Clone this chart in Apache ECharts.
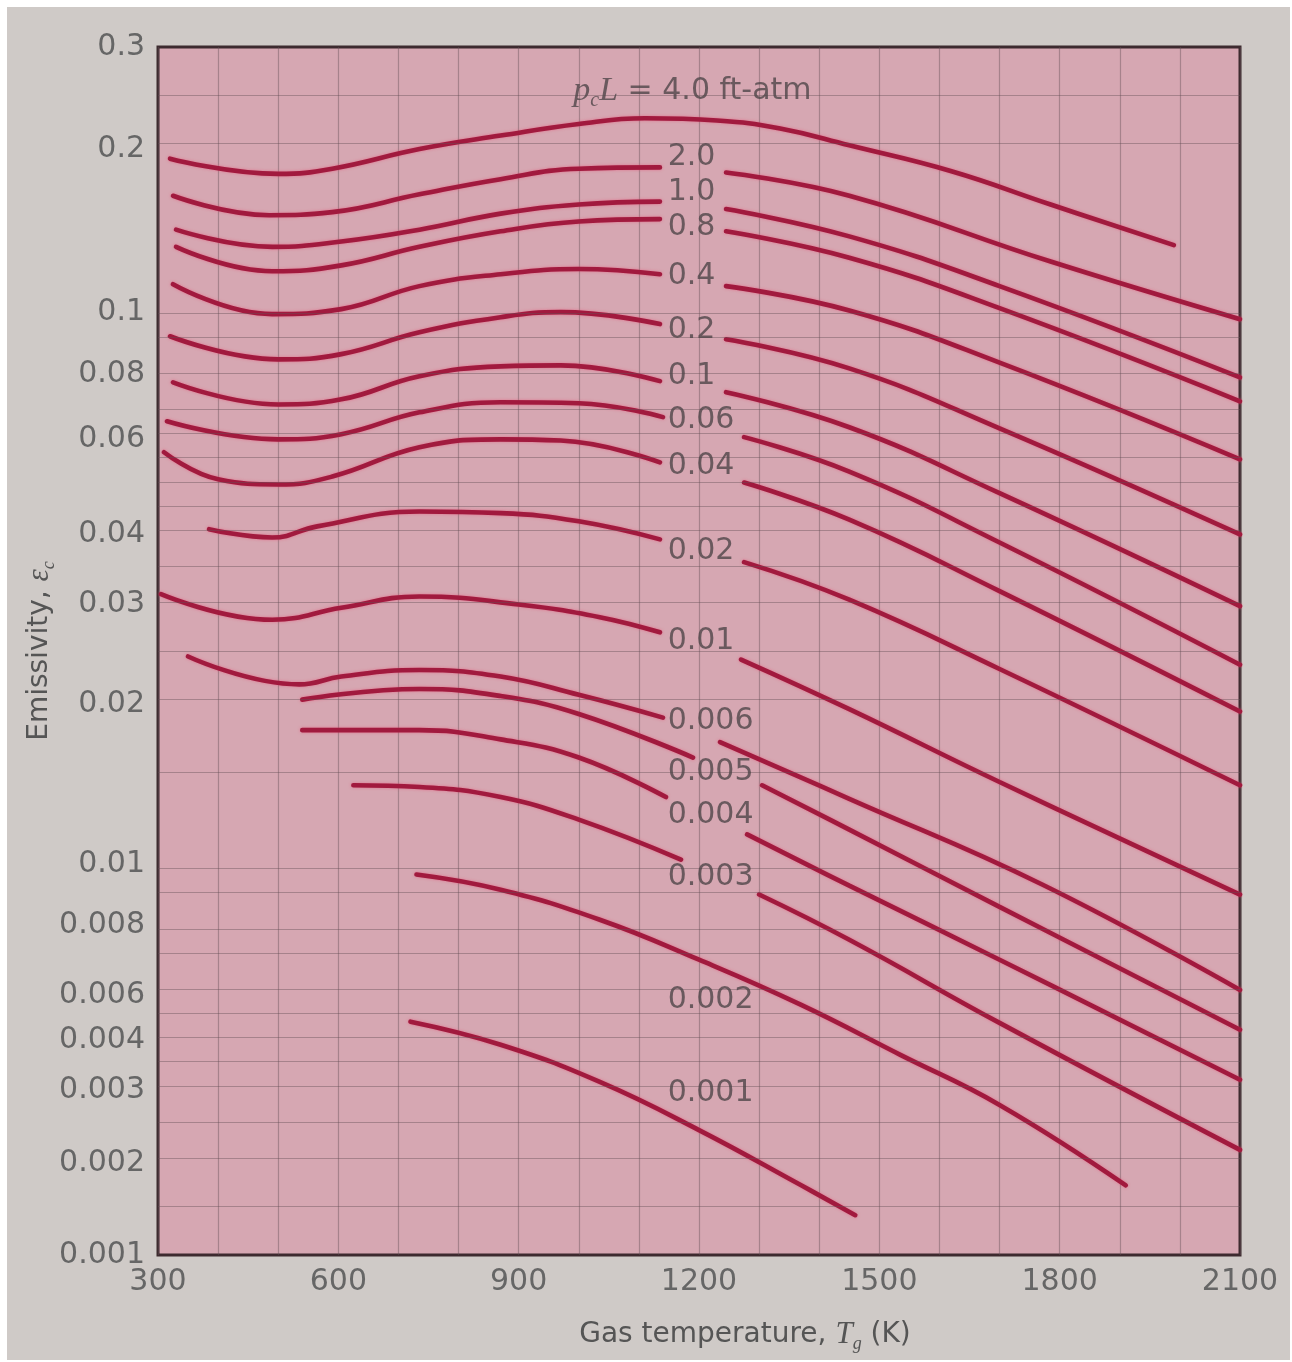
<!DOCTYPE html>
<html>
<head>
<meta charset="utf-8">
<script src="https://cdn.jsdelivr.net/npm/echarts@6/dist/echarts.min.js"></script>
<style>
html,body{margin:0;padding:0;background:#ffffff;width:1292px;height:1362px;overflow:hidden;}
#c{position:absolute;left:7px;top:7px;width:1283px;height:1353px;}
</style>
</head>
<body>
<div id="c"></div>
<script>
// ---- y axis (emissivity) tick values and their labels ----
const TICK_VALUES = [0.001, 0.002, 0.003, 0.004, 0.006, 0.008, 0.01, 0.02, 0.03, 0.04, 0.06, 0.08, 0.1, 0.2, 0.3];
const TICK_LABELS = ['0.001','0.002','0.003','0.004','0.006','0.008','0.01','0.02','0.03','0.04','0.06','0.08','0.1','0.2','0.3'];
// fraction of axis height at which each tick sits in the printed chart (non-uniform printed scale)
const TICK_FRAC = [0, 0.0762, 0.1367, 0.1781, 0.2154, 0.2734, 0.3231, 0.4557, 0.5385, 0.5965, 0.6752, 0.7291, 0.7805, 0.9155, 1];
// horizontal grid-line emissivities
const GRID_EPS = [0.0015,0.002,0.0025,0.003,0.0035,0.004,0.005,0.006,0.007,0.008,0.009,0.01,0.015,0.02,0.025,0.03,0.035,0.04,0.045,0.05,0.055,0.06,0.07,0.08,0.09,0.1,0.2,0.25];
// x axis tick labels
const X_LABELS = [300, 600, 900, 1200, 1500, 1800, 2100];

// ---- curves: gas temperature (K) and emissivity; null = gap for label ----
const T_4_0 = [320, 500, 590, 735, 870, 1000, 1110, 1230, 1335, 1450, 1620, 1785, 1990];
const E_4_0 = [0.192, 0.180, 0.184, 0.200, 0.211, 0.221, 0.226, 0.224, 0.217, 0.203, 0.182, 0.158, 0.133];

const T_2_0 = [325, 485, 590, 735, 870, 1000, 1135, 1190, 1245, 1450, 1785, 2100];
const E_2_0 = [0.164, 0.151, 0.153, 0.165, 0.176, 0.184, 0.185, null, 0.181, 0.164, 0.124, 0.0975];

const T_1_0 = [330, 490, 605, 735, 870, 1000, 1135, 1190, 1245, 1450, 1700, 2100];
const E_1_0 = [0.142, 0.132, 0.135, 0.142, 0.152, 0.158, 0.160, null, 0.155, 0.138, 0.1117, 0.0789];

const T_0_8 = [330, 490, 605, 735, 870, 1000, 1135, 1190, 1245, 1450, 1700, 2100];
const E_0_8 = [0.132, 0.119, 0.122, 0.132, 0.141, 0.147, 0.1485, null, 0.141, 0.126, 0.1017, 0.071];

const T_0_4 = [325, 490, 605, 735, 870, 1000, 1135, 1190, 1245, 1450, 1700, 2100];
const E_0_4 = [0.1126, 0.0993, 0.1013, 0.1117, 0.1175, 0.1201, 0.1175, null, 0.1117, 0.1007, 0.0834, 0.0551];

const T_0_2 = [320, 500, 605, 735, 870, 970, 1135, 1190, 1245, 1450, 1700, 2100];
const E_0_2 = [0.0917, 0.0844, 0.0860, 0.0930, 0.0982, 0.1000, 0.0958, null, 0.0907, 0.0817, 0.0630, 0.0400];

const T_0_1 = [325, 500, 605, 735, 870, 970, 1135, 1190, 1245, 1450, 1700, 2100];
const E_0_1 = [0.0772, 0.0700, 0.0716, 0.0793, 0.0823, 0.0826, 0.0776, null, 0.0739, 0.0633, 0.0477, 0.0298];

const T_0_06 = [315, 500, 605, 735, 870, 1000, 1140, 1200, 1275, 1450, 1700, 2100];
const E_0_06 = [0.0650, 0.0600, 0.0614, 0.0676, 0.0707, 0.0704, 0.0662, null, 0.0606, 0.0523, 0.0387, 0.0235];

const T_0_04 = [310, 400, 500, 590, 735, 870, 970, 1135, 1200, 1275, 1450, 1700, 2100];
const E_0_04 = [0.0568, 0.0506, 0.0495, 0.0512, 0.0580, 0.0600, 0.0597, 0.0544, null, 0.0499, 0.0426, 0.0317, 0.0194];

const T_0_02 = [385, 490, 565, 735, 870, 1000, 1135, 1200, 1275, 1450, 1700, 2100];
const E_0_02 = [0.0409, 0.0395, 0.0414, 0.0441, 0.0438, 0.0423, 0.0392, null, 0.0357, 0.0306, 0.0231, 0.0141];

const T_0_01 = [305, 490, 605, 735, 900, 1035, 1135, 1200, 1270, 1450, 1700, 2100];
const E_0_01 = [0.0313, 0.0282, 0.0296, 0.0310, 0.0300, 0.0285, 0.0268, null, 0.0240, 0.0196, 0.0143, 0.00895];

const T_0_006 = [350, 535, 605, 735, 870, 1000, 1140, 1190, 1235, 1450, 1770, 2100];
const E_0_006 = [0.0243, 0.0217, 0.0224, 0.0230, 0.0224, 0.0208, 0.0189, null, 0.0170, 0.0133, 0.0093, 0.00612];

const T_0_005 = [540, 735, 870, 1000, 1190, 1250, 1305, 1450, 1700, 2100];
const E_0_005 = [0.0204, 0.0213, 0.0207, 0.0192, 0.0159, null, 0.0141, 0.01164, 0.00855, 0.00438];

const T_0_004 = [540, 735, 870, 1000, 1145, 1210, 1280, 1450, 1700, 2100];
const E_0_004 = [0.0179, 0.0179, 0.0172, 0.0159, 0.0134, null, 0.0114, 0.00925, 0.00693, 0.00318];

const T_0_003 = [625, 735, 870, 1000, 1170, 1235, 1300, 1450, 1700, 2100];
const E_0_003 = [0.0141, 0.0140, 0.0134, 0.01215, 0.01022, null, 0.00895, 0.00752, 0.00466, 0.00215];

const T_0_002 = [730, 870, 1035, 1200, 1370, 1535, 1700, 1910];
const E_0_002 = [0.00964, 0.00911, 0.00815, 0.00693, 0.00548, 0.00367, 0.00276, 0.00169];

const T_0_001 = [720, 870, 1035, 1200, 1370, 1460];
const E_0_001 = [0.00471, 0.00389, 0.00314, 0.00240, 0.00169, 0.00135];

// ---- curve labels (pcL, ft-atm) anchored in data coordinates ----
const LABEL_TEXT = ['2.0','1.0','0.8','0.4','0.2','0.1','0.06','0.04','0.02','0.01','0.006','0.005','0.004','0.003','0.002','0.001'];
const LABEL_T = 1147;
const LABEL_EPS = [0.1933, 0.1666, 0.1435, 0.1165, 0.0937, 0.0793, 0.0653, 0.0535, 0.0373, 0.0258, 0.0186, 0.0149, 0.0124, 0.00956, 0.00574, 0.00295];
const TITLE_T = 990;
const TITLE_EPS = 0.2519;

// ---- printed (piecewise-logarithmic) emissivity scale ----
function pos(e) {
  const n = TICK_VALUES.length;
  let i = 0;
  while (i < n - 2 && e > TICK_VALUES[i + 1]) i++;
  const l0 = Math.log10(TICK_VALUES[i]), l1 = Math.log10(TICK_VALUES[i + 1]);
  const t = (Math.log10(e) - l0) / (l1 - l0);
  return TICK_FRAC[i] + t * (TICK_FRAC[i + 1] - TICK_FRAC[i]);
}

const CURVES = [
  ['4.0', T_4_0, E_4_0], ['2.0', T_2_0, E_2_0], ['1.0', T_1_0, E_1_0], ['0.8', T_0_8, E_0_8],
  ['0.4', T_0_4, E_0_4], ['0.2', T_0_2, E_0_2], ['0.1', T_0_1, E_0_1], ['0.06', T_0_06, E_0_06],
  ['0.04', T_0_04, E_0_04], ['0.02', T_0_02, E_0_02], ['0.01', T_0_01, E_0_01], ['0.006', T_0_006, E_0_006],
  ['0.005', T_0_005, E_0_005], ['0.004', T_0_004, E_0_004], ['0.003', T_0_003, E_0_003],
  ['0.002', T_0_002, E_0_002], ['0.001', T_0_001, E_0_001]
];

const FONT = 'DejaVu Sans';
const CURVE_COLOR = '#a11a3e';
const GRID_COLOR = 'rgba(100,78,86,0.42)';

const series = [];
series.push({
  type: 'line', data: [], silent: true, z: 1,
  markLine: {
    silent: true, symbol: ['none', 'none'], label: { show: false },
    lineStyle: { color: GRID_COLOR, width: 1.2, type: 'solid' },
    animation: false,
    data: GRID_EPS.map(e => ({ yAxis: pos(e) }))
  }
});
CURVES.forEach(([name, T, E]) => {
  series.push({
    name: 'pcL=' + name, type: 'line', z: 3,
    smooth: 0.45, showSymbol: false, connectNulls: false,
    lineStyle: { color: CURVE_COLOR, width: 4.6, cap: 'round',
                 shadowColor: 'rgba(235,70,110,0.55)', shadowBlur: 3 },
    data: T.map((t, i) => [t, E[i] === null ? null : pos(E[i])])
  });
});
series.push({
  type: 'scatter', z: 5, silent: true, symbolSize: 1,
  itemStyle: { color: 'rgba(0,0,0,0)' },
  label: { show: true, position: 'right', distance: 0, formatter: '{b}',
           color: '#4f4648', fontSize: 30, fontFamily: FONT },
  data: LABEL_EPS.map((e, i) => ({ name: LABEL_TEXT[i], value: [LABEL_T, pos(e)] }))
});
series.push({
  type: 'scatter', z: 5, silent: true, symbolSize: 1,
  itemStyle: { color: 'rgba(0,0,0,0)' },
  label: {
    show: true, position: 'right', distance: 0,
    formatter: '{i|p}{s|c}{i|L}{n| = 4.0 ft-atm}',
    rich: {
      i: { fontFamily: 'Liberation Serif', fontStyle: 'italic', fontSize: 34, color: '#4f4648', lineHeight: 40, verticalAlign: 'middle' },
      s: { fontFamily: 'Liberation Serif', fontStyle: 'italic', fontSize: 20, color: '#4f4648', lineHeight: 40, verticalAlign: 'bottom' },
      n: { fontFamily: FONT, fontSize: 30, color: '#4f4648', lineHeight: 40, verticalAlign: 'middle' }
    }
  },
  data: [{ name: 'title', value: [TITLE_T, pos(TITLE_EPS)] }]
});

const chart = echarts.init(document.getElementById('c'), null, { renderer: 'canvas' });
chart.setOption({
  animation: false,
  backgroundColor: '#cfcac7',
  grid: { left: 151, top: 40, width: 1082, height: 1208, show: true,
          backgroundColor: '#d6a7b2', borderColor: '#3d2a2f', borderWidth: 3 },
  xAxis: {
    type: 'value', min: 300, max: 2100, interval: 100,
    axisLine: { show: false }, axisTick: { show: false },
    splitLine: { show: true, lineStyle: { color: GRID_COLOR, width: 1.2 } },
    axisLabel: {
      margin: 12, fontSize: 30, color: '#666', fontFamily: FONT,
      formatter: v => (X_LABELS.indexOf(v) >= 0 ? String(v) : '')
    },
    name: 'Gas temperature, {i|T}{s|g} (K)',
    nameLocation: 'middle', nameGap: 62, nameMoveOverlap: false,
    nameTextStyle: {
      fontSize: 28, color: '#555', fontFamily: FONT, padding: [0, 0, 0, 92],
      rich: {
        i: { fontFamily: 'Liberation Serif', fontStyle: 'italic', fontSize: 31, color: '#555', lineHeight: 36, verticalAlign: 'middle' },
        s: { fontFamily: 'Liberation Serif', fontStyle: 'italic', fontSize: 18, color: '#555', lineHeight: 36, verticalAlign: 'bottom' }
      }
    }
  },
  yAxis: {
    type: 'value', min: 0, max: 1,
    axisLine: { show: false }, axisTick: { show: false }, splitLine: { show: false },
    axisLabel: {
      customValues: TICK_FRAC, margin: 13, fontSize: 30, color: '#666', fontFamily: FONT,
      padding: [6, 0, 0, 0],
      formatter: v => { const i = TICK_FRAC.indexOf(v); return i >= 0 ? TICK_LABELS[i] : ''; }
    },
    name: 'Emissivity, {i|ε}{s|c}',
    nameLocation: 'middle', nameGap: 100, nameRotate: 90, nameMoveOverlap: false,
    nameTextStyle: {
      fontSize: 28, color: '#555', fontFamily: FONT,
      rich: {
        i: { fontFamily: 'Liberation Serif', fontStyle: 'italic', fontSize: 31, color: '#555', lineHeight: 36, verticalAlign: 'middle' },
        s: { fontFamily: 'Liberation Serif', fontStyle: 'italic', fontSize: 18, color: '#555', lineHeight: 36, verticalAlign: 'bottom' }
      }
    }
  },
  series: series
});
</script>
</body>
</html>
